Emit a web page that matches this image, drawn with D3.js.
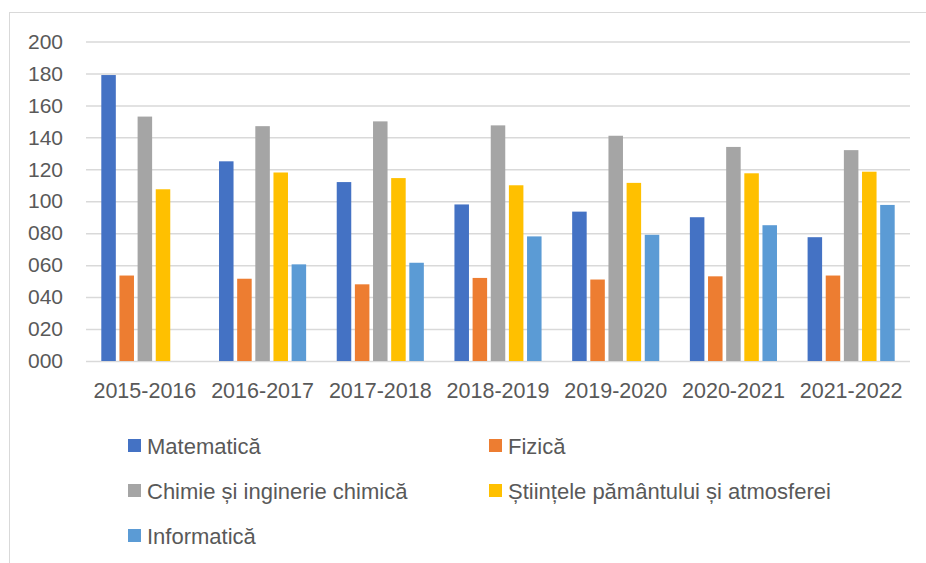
<!DOCTYPE html>
<html><head><meta charset="utf-8">
<script src="https://cdn.jsdelivr.net/npm/d3@7"></script>
<style>body{margin:0;background:#fff}svg{display:block}</style>
</head><body>
<svg id="c" width="926" height="563"></svg>
<script>
const categories = ["2015-2016","2016-2017","2017-2018","2018-2019","2019-2020","2020-2021","2021-2022"];
const seriesNames = ["Matematică","Fizică","Chimie și inginerie chimică","Științele pământului și atmosferei","Informatică"];
const matematica = [179, 125, 112, 98, 93.5, 90, 77.5];
const fizica = [53.5, 51.5, 48, 52, 51, 53, 53.5];
const chimie = [153, 147, 150, 147.5, 141, 134, 132];
const stiinte = [107.5, 118, 114.5, 110, 111.5, 117.5, 118.5];
const informatica = [null, 60.5, 61.5, 78, 79, 85, 97.7];
const yTicks = [0,20,40,60,80,100,120,140,160,180,200];
const colors = ["#4472C4","#ED7D31","#A5A5A5","#FFC000","#5B9BD5"];
const seriesValues = [matematica, fizica, chimie, stiinte, informatica];

const svg = d3.select("#c");
const font = "'Liberation Sans', Arial, sans-serif";
const textColor = "#595959";

// chart border
svg.append("rect").attr("x",9.5).attr("y",12.5).attr("width",930).attr("height",560)
  .attr("fill","none").attr("stroke","#D9D9D9").attr("stroke-width",1);

const pLeft = 86, pRight = 910, pTop = 41.5, pBottom = 361;
const y = d3.scaleLinear().domain([0,200]).range([pBottom, pTop]);
const x0 = d3.scaleBand().domain(categories).range([pLeft, pRight]).paddingInner(0.26).paddingOuter(0.13);
const x1 = d3.scaleBand().domain(d3.range(5)).range([0, x0.bandwidth()]).paddingInner(0.2);

// gridlines
const yAxis = d3.axisLeft(y).tickValues(yTicks).tickSize(-(pRight-pLeft)).tickFormat(d => d3.format("03d")(d));
const gy = svg.append("g").attr("transform",`translate(${pLeft},0)`).call(yAxis);
gy.select(".domain").remove();
gy.selectAll(".tick line").attr("stroke","#D9D9D9").attr("stroke-width",1.5);
gy.selectAll(".tick text").attr("x",-23).attr("fill",textColor)
  .style("font-family",font).style("font-size","21px");

// bars
categories.forEach((cat, i) => {
  const g = svg.append("g").attr("transform",`translate(${x0(cat)},0)`);
  seriesValues.forEach((vals, s) => {
    const v = vals[i];
    if (v == null) return;
    g.append("rect").attr("x", x1(s)).attr("y", y(v))
      .attr("width", x1.bandwidth()).attr("height", y(0) - y(v))
      .attr("fill", colors[s]);
  });
});

// x axis labels
const xAxis = d3.axisBottom(x0).tickSize(0);
const gx = svg.append("g").attr("transform",`translate(0,${pBottom})`).call(xAxis);
gx.select(".domain").remove();
gx.selectAll(".tick text").attr("y",22).attr("fill",textColor)
  .style("font-family",font).style("font-size","21.5px");

// legend
const legendPos = [[128,446],[489,446],[128,491],[489,491],[128,536]];
seriesNames.forEach((name, s) => {
  const [lx, ly] = legendPos[s];
  svg.append("rect").attr("x",lx).attr("y",ly-7).attr("width",13).attr("height",13).attr("fill",colors[s]);
  svg.append("text").attr("x",lx+19).attr("y",ly).attr("dy","0.35em").attr("fill",textColor)
    .style("font-family",font).style("font-size","22px").text(name);
});
</script>
</body></html>
